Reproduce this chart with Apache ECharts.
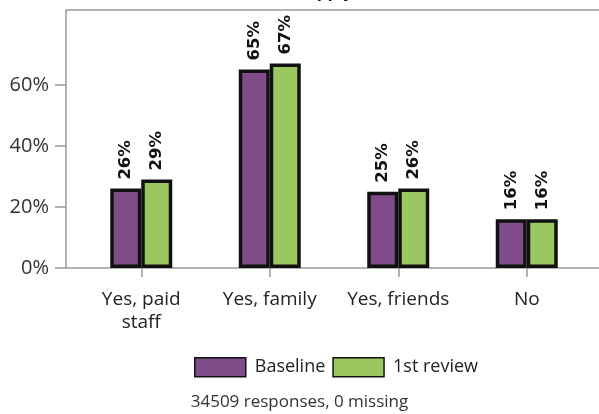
<!DOCTYPE html>
<html>
<head>
<meta charset="utf-8">
<script src="https://cdn.jsdelivr.net/npm/echarts@6/dist/echarts.min.js"></script>
<style>html,body{margin:0;padding:0;background:#fff}#c{width:599px;height:414px}</style>
</head>
<body>
<div id="c"></div>
<script>
const categories = ['Yes, paid\nstaff', 'Yes, family', 'Yes, friends', 'No'];
const baseline = [26, 65, 25, 16];
const firstReview = [29, 67, 26, 16];
const yTicks = [0, 20, 40, 60];
const titleText = 'Tick all that apply,';
const footerText = '34509 responses, 0 missing';

const FONT = '"Open Sans", sans-serif';
const chart = echarts.init(document.getElementById('c'), null, {renderer: 'canvas'});
const labelOpt = {
  show: true, position: 'top', rotate: 90, align: 'left', verticalAlign: 'middle',
  distance: 9, formatter: '{c}%', fontFamily: '"DejaVu Sans", sans-serif', fontWeight: 'bold', fontSize: 16.5, color: '#111'
};
chart.setOption({
  animation: false,
  backgroundColor: '#fff',
  title: [
    {text: titleText, right: 236, top: -21, textStyle: {fontFamily: FONT, fontWeight: 'bold', fontSize: 17, color: '#111'}},
    {text: footerText, left: 'center', top: 389, textStyle: {fontFamily: FONT, fontWeight: 'normal', fontSize: 17, color: '#333'}}
  ],
  legend: {
    left: 189, top: 352, itemWidth: 51, itemHeight: 19, itemGap: 7, icon: 'rect',
    itemStyle: {borderColor: '#111', borderWidth: 1.5},
    textStyle: {fontFamily: FONT, fontSize: 18, color: '#222', padding: [0, 0, 0, 4]},
    data: ['Baseline', '1st review']
  },
  grid: {left: 77, right: 8, top: 10, bottom: 146},
  xAxis: {
    type: 'category', data: categories,
    axisLine: {show: false},
    axisTick: {show: true, alignWithLabel: true, length: 9, lineStyle: {color: '#999', width: 1.5}},
    axisLabel: {interval: 0, fontFamily: FONT, fontSize: 19, color: '#222', lineHeight: 23, margin: 20}
  },
  yAxis: {
    type: 'value', min: 0, max: 84.5, interval: 20, offset: 11,
    axisLine: {show: false},
    splitLine: {show: false},
    axisTick: {show: true, length: 11, lineStyle: {color: '#999', width: 1.5}, customValues: yTicks},
    axisLabel: {fontFamily: FONT, fontSize: 20, color: '#333', margin: 17, formatter: '{value}%', customValues: yTicks}
  },
  graphic: [{
    type: 'rect', z: 1, silent: true,
    shape: {x: 66, y: 10, width: 560, height: 258},
    style: {fill: 'none', stroke: '#9a9a9a', lineWidth: 1.5}
  }],
  series: [
    {name: 'Baseline', type: 'bar', data: baseline, barWidth: 31, barGap: '0%', z: 3,
     itemStyle: {color: '#7f4c89', borderColor: '#111', borderWidth: 3.5}, label: labelOpt},
    {name: '1st review', type: 'bar', data: firstReview, barWidth: 31, barGap: '0%', z: 3,
     itemStyle: {color: '#9bc760', borderColor: '#111', borderWidth: 3.5}, label: labelOpt}
  ]
});
</script>
</body>
</html>
